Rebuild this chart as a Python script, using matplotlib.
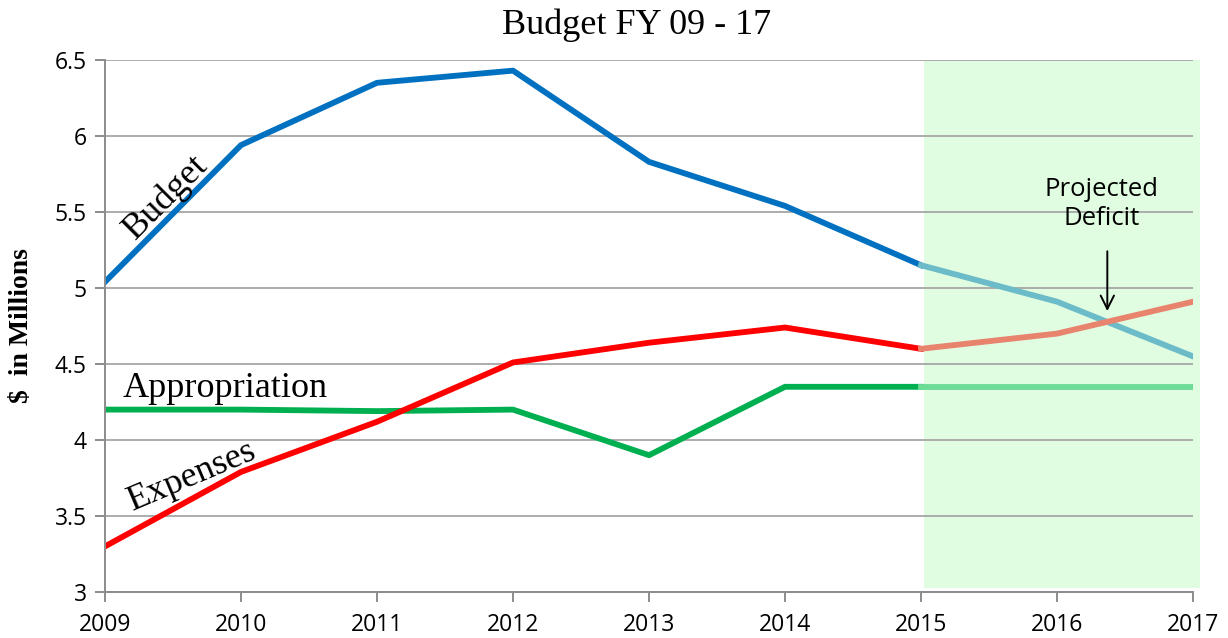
import matplotlib
matplotlib.use("Agg")
import matplotlib.pyplot as plt

years = [2009, 2010, 2011, 2012, 2013, 2014, 2015, 2016, 2017]
budget = [5.04, 5.94, 6.35, 6.43, 5.83, 5.54, 5.15, 4.91, 4.55]
expenses = [3.30, 3.79, 4.12, 4.51, 4.64, 4.74, 4.60, 4.70, 4.91]
appropriation = [4.20, 4.20, 4.19, 4.20, 3.90, 4.35, 4.35, 4.35, 4.35]
y_ticks = [3, 3.5, 4, 4.5, 5, 5.5, 6, 6.5]
y_tick_labels = ["3", "3.5", "4", "4.5", "5", "5.5", "6", "6.5"]
proj_start = 2015

W, H = 1228, 638
fig = plt.figure(figsize=(W / 100, H / 100), dpi=100)
ax = fig.add_axes([105 / W, 1 - 592 / H, (1193 - 105) / W, (592 - 60) / H])

k = years.index(proj_start)
lw = 4.2
ax.axvspan(2015.02, 2017.05, ymin=4 / 532, ymax=1, color="#E1FDE1", zorder=0, lw=0, clip_on=False)

ax.plot(years[:k + 1], appropriation[:k + 1], color="#00B050", lw=lw, zorder=3, solid_joinstyle="round")
ax.plot(years[k:], appropriation[k:], color="#6CDC96", lw=lw, zorder=3, solid_joinstyle="round")
ax.plot(years[:k + 1], budget[:k + 1], color="#0070C0", lw=lw, zorder=3, solid_joinstyle="round")
ax.plot(years[k:], budget[k:], color="#6BBBC8", lw=lw, zorder=3, solid_joinstyle="round")
ax.plot(years[:k + 1], expenses[:k + 1], color="#FF0000", lw=lw, zorder=4, solid_joinstyle="round")
ax.plot(years[k:], expenses[k:], color="#E8846E", lw=lw, zorder=4, solid_joinstyle="round")

ax.set_xlim(2009, 2017)
ax.set_ylim(3, 6.5)
ax.set_xticks(years)
ax.set_xticklabels([str(y) for y in years])
ax.set_yticks(y_ticks)
ax.set_yticklabels(y_tick_labels)
ax.grid(axis="y", color="#A6A6A6", lw=1.3, zorder=1)
ax.set_axisbelow(True)
for s in ["top", "right"]:
    ax.spines[s].set_visible(False)
for s in ["left", "bottom"]:
    ax.spines[s].set_color("#8C8C8C")
    ax.spines[s].set_linewidth(1.4)
    ax.spines[s].set_zorder(5)
ax.tick_params(axis="both", colors="#8C8C8C", width=1.4, length=7, direction="out",
               labelcolor="black", labelsize=16.5)
for lab in ax.get_xticklabels() + ax.get_yticklabels():
    lab.set_fontfamily("Open Sans")
ax.tick_params(axis="x", pad=8)
ax.tick_params(axis="y", pad=6)

serif = "Liberation Serif"
fig.text(637 / W, 1 - 25 / H, "Budget FY 09 - 17", ha="center", va="center",
         fontsize=26, family=serif)
fig.text(22 / W, 1 - 326 / H, "$  in Millions", ha="center", va="center", rotation=90,
         fontsize=20, family=serif, fontweight="bold")

ax.text(2009.45, 5.60, "Budget", rotation=45, ha="center", va="center",
        fontsize=26, family=serif, rotation_mode="anchor")
ax.text(2009.88, 4.34, "Appropriation", ha="center", va="center", fontsize=26, family=serif)
ax.text(2009.64, 3.76, "Expenses", rotation=23, ha="center", va="center",
        fontsize=26, family=serif, rotation_mode="anchor")

ax.text(2016.33, 5.55, "Projected\nDeficit", ha="center", va="center", fontsize=18.5,
        family="Open Sans", linespacing=1.2)
ax.annotate("", xy=(2016.37, 4.83), xytext=(2016.37, 5.26),
            arrowprops=dict(arrowstyle="->", color="black", lw=1.4, mutation_scale=24))

fig.savefig("out.png", dpi=100)
